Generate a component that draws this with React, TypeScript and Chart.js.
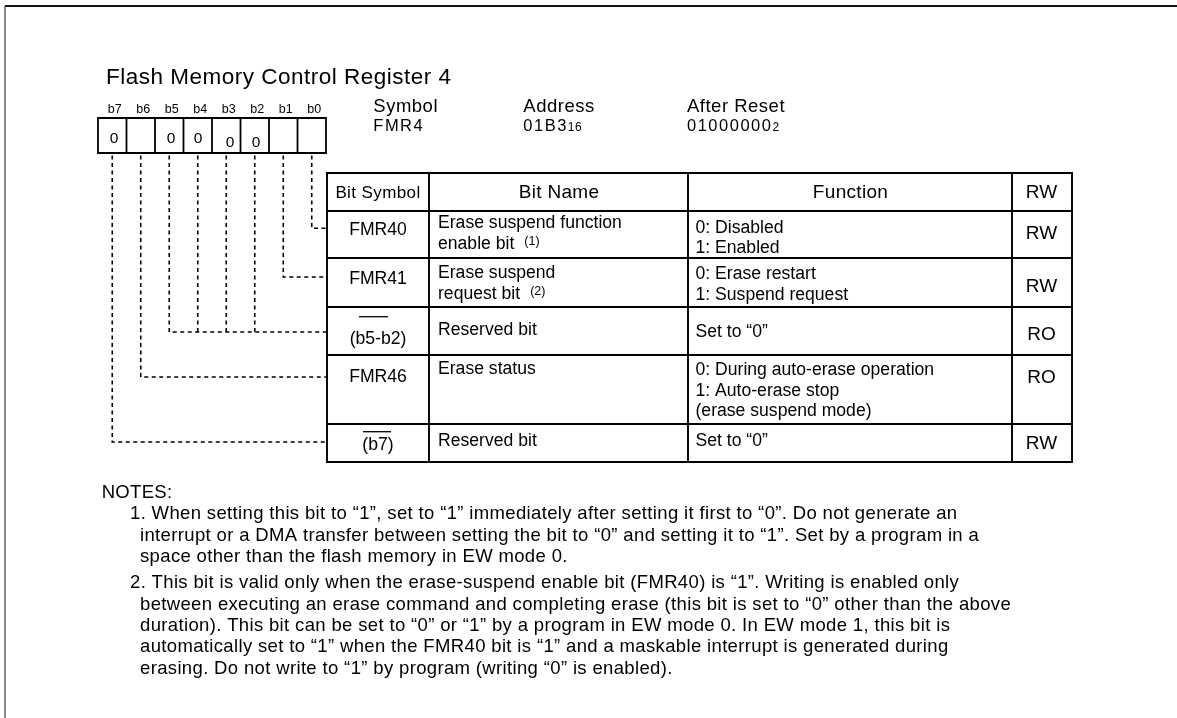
import React, { useEffect, useRef } from "react";
import { Chart, registerables } from "chart.js";

Chart.register(...registerables);

// ---------------- content ----------------
const title = "Flash Memory Control Register 4";
const bitLabels = ["b7", "b6", "b5", "b4", "b3", "b2", "b1", "b0"];
const resetBits = ["0", "", "0", "0", "0", "0", "", ""];
const infoHeads = ["Symbol", "Address", "After Reset"];
const infoValues = ["FMR4", "01B3", "01000000"];
const infoSubscripts = ["", "16", "2"];
const columnHeads = ["Bit Symbol", "Bit Name", "Function", "RW"];
const bitSymbols = ["FMR40", "FMR41", "(b5-b2)", "FMR46", "(b7)"];
const symbolOverline = [false, false, true, false, true];
const bitNames = [
  ["Erase suspend function", "enable bit"],
  ["Erase suspend", "request bit"],
  ["Reserved bit"],
  ["Erase status"],
  ["Reserved bit"],
];
const bitNameRefs = ["(1)", "(2)", "", "", ""];
const functionTexts = [
  ["0: Disabled", "1: Enabled"],
  ["0: Erase restart", "1: Suspend request"],
  ["Set to \u201C0\u201D"],
  ["0: During auto-erase operation", "1: Auto-erase stop", "(erase suspend mode)"],
  ["Set to \u201C0\u201D"],
];
const accessTexts = ["RW", "RW", "RO", "RO", "RW"];
// table row each bit (b7..b0) connects to
const bitToRow = [4, 3, 2, 2, 2, 2, 1, 0];
const notesHeading = "NOTES:";
const note1 = [
  "1. When setting this bit to \u201C1\u201D, set to \u201C1\u201D immediately after setting it first to \u201C0\u201D. Do not generate an",
  "interrupt or a DMA transfer between setting the bit to \u201C0\u201D and setting it to \u201C1\u201D. Set by a program in a",
  "space other than the flash memory in EW mode 0.",
];
const note2 = [
  "2. This bit is valid only when the erase-suspend enable bit (FMR40) is \u201C1\u201D. Writing is enabled only",
  "between executing an erase command and completing erase (this bit is set to \u201C0\u201D other than the above",
  "duration). This bit can be set to \u201C0\u201D or \u201C1\u201D by a program in EW mode 0. In EW mode 1, this bit is",
  "automatically set to \u201C1\u201D when the FMR40 bit is \u201C1\u201D and a maskable interrupt is generated during",
  "erasing. Do not write to \u201C1\u201D by program (writing \u201C0\u201D is enabled).",
];

// ---------------- layout ----------------
const W = 1177;
const H = 718;
const FONT = "'Liberation Sans', Arial, Helvetica, sans-serif";
const FRAME_X = 5;
const FRAME_Y = 6;
const TITLE_POS = { x: 106, y: 84, size: 22.5, ls: 0.5 };
const BOX_X0 = 98;
const BOX_W = 28.5;
const BOX_Y0 = 118;
const BOX_Y1 = 153;
const BIT_LABEL_Y = 113.3;
const BIT_LABEL_DX = 2.5;
const RESET_DX = [1.75, 0, 1.75, 0.25, 3.75, 1.25, 0, 0];
const RESET_Y = [143.3, 143.3, 143.3, 143.3, 146.7, 146.7, 146.7, 146.7];
const INFO_X = [373.3, 523.3, 687];
const INFO_HEAD_Y = 111.7;
const INFO_VAL_Y = 131;
const TABLE_X = [327, 429, 688, 1012, 1072];
const TABLE_Y = [173, 211, 258, 307, 355, 424, 462];
const COL_CENTER = [378, 559, 850.5, 1041.5];
const HEAD_Y = 198;
const HEAD_SIZE = [17, 19, 19, 19];
const HEAD_LS = [0.4, 0.3, 0.3, 0];
const BODY_SIZE = 17.6;
const SYMBOL_Y = [235, 284, 343.5, 381.7, 450];
const OVERLINE_Y = [0, 0, 316.7, 0, 431.7];
const OVERLINE_X = [[0, 0], [0, 0], [359, 388], [0, 0], [363, 391]];
const NAME_X = 438;
const NAME_Y = [228.3, 278.3, 335, 374, 445.7];
const NAME_PITCH = 21;
const FUNC_X = 695.5;
const FUNC_Y = [232.7, 279, 336.7, 375, 445.7];
const FUNC_PITCH = 20.6;
const RW_Y = [239.3, 291.7, 340, 383.3, 449];
const CONNECT_TOP = 155.5;
const CONNECT_Y = [228.3, 277, 332, 377, 442];
const NOTES_X = 101.7;
const NOTES_Y = 498.3;
const NOTE_NUM_X = 130;
const NOTE_CONT_X = 140;
const NOTE1_Y = 519.3;
const NOTE2_Y = 588.3;
const NOTE_PITCH = 21.3;
const NOTE_SIZE = 18.5;
const NOTE_LS = 0.35;

type P = { x: number; y: number };
type Seg = { pts: P[]; width: number; dash?: number[]; color?: string; cap?: string };

function boxCenter(i: number) {
  return BOX_X0 + BOX_W * i + BOX_W / 2;
}

function buildSegments(): Seg[] {
  const segs: Seg[] = [];
  // outer frame
  segs.push({ pts: [{ x: FRAME_X, y: H }, { x: FRAME_X, y: FRAME_Y }], width: 1.4, color: "#555" });
  segs.push({ pts: [{ x: FRAME_X, y: FRAME_Y }, { x: W, y: FRAME_Y }], width: 2, color: "#111" });
  // bit boxes
  const bx1 = BOX_X0 + BOX_W * bitLabels.length;
  segs.push({
    pts: [
      { x: BOX_X0, y: BOX_Y0 }, { x: bx1, y: BOX_Y0 }, { x: bx1, y: BOX_Y1 },
      { x: BOX_X0, y: BOX_Y1 }, { x: BOX_X0, y: BOX_Y0 },
    ],
    width: 1.8,
    cap: "square",
  });
  for (let i = 1; i < bitLabels.length; i++) {
    const x = BOX_X0 + BOX_W * i;
    segs.push({ pts: [{ x, y: BOX_Y0 }, { x, y: BOX_Y1 }], width: 1.8 });
  }
  // table
  const tx0 = TABLE_X[0], tx1 = TABLE_X[TABLE_X.length - 1];
  const ty0 = TABLE_Y[0], ty1 = TABLE_Y[TABLE_Y.length - 1];
  segs.push({
    pts: [
      { x: tx0, y: ty0 }, { x: tx1, y: ty0 }, { x: tx1, y: ty1 },
      { x: tx0, y: ty1 }, { x: tx0, y: ty0 },
    ],
    width: 1.9,
    cap: "square",
  });
  for (let i = 1; i < TABLE_X.length - 1; i++) {
    segs.push({ pts: [{ x: TABLE_X[i], y: ty0 }, { x: TABLE_X[i], y: ty1 }], width: 1.9 });
  }
  for (let j = 1; j < TABLE_Y.length - 1; j++) {
    segs.push({ pts: [{ x: tx0, y: TABLE_Y[j] }, { x: tx1, y: TABLE_Y[j] }], width: 1.9 });
  }
  // dashed connectors
  const dash = [4, 3.5];
  const leftMost: Record<number, number> = {};
  bitToRow.forEach((r, i) => {
    if (leftMost[r] === undefined) leftMost[r] = i;
  });
  bitToRow.forEach((r, i) => {
    const cx = boxCenter(i);
    const cy = CONNECT_Y[r];
    if (leftMost[r] === i) {
      segs.push({ pts: [{ x: cx, y: CONNECT_TOP }, { x: cx, y: cy }, { x: tx0, y: cy }], width: 1.6, dash });
    } else {
      segs.push({ pts: [{ x: cx, y: CONNECT_TOP }, { x: cx, y: cy }], width: 1.6, dash });
    }
  });
  // overlines of reserved-bit symbols
  symbolOverline.forEach((on, r) => {
    if (!on) return;
    segs.push({
      pts: [{ x: OVERLINE_X[r][0], y: OVERLINE_Y[r] }, { x: OVERLINE_X[r][1], y: OVERLINE_Y[r] }],
      width: 1.3,
    });
  });
  return segs;
}

const textPlugin = {
  id: "registerText",
  afterDatasetsDraw(chart: any) {
    const ctx: CanvasRenderingContext2D = chart.ctx;
    const sx = chart.scales.x;
    const sy = chart.scales.y;
    const X = (v: number) => sx.getPixelForValue(v);
    const Y = (v: number) => sy.getPixelForValue(v);
    ctx.save();
    ctx.fillStyle = "#000";
    ctx.textBaseline = "alphabetic";
    const draw = (s: string, x: number, y: number, size: number, align: CanvasTextAlign = "left", ls = 0) => {
      ctx.font = `${size}px ${FONT}`;
      ctx.textAlign = align;
      (ctx as any).letterSpacing = `${ls}px`;
      ctx.fillText(s, X(x), Y(y));
      const w = ctx.measureText(s).width;
      (ctx as any).letterSpacing = "0px";
      return w;
    };

    // title
    draw(title, TITLE_POS.x, TITLE_POS.y, TITLE_POS.size, "left", TITLE_POS.ls);
    // bit labels and reset values
    bitLabels.forEach((b, i) => draw(b, boxCenter(i) + BIT_LABEL_DX, BIT_LABEL_Y, 12.5, "center"));
    resetBits.forEach((v, i) => {
      if (v) draw(v, boxCenter(i) + RESET_DX[i], RESET_Y[i], 15.5, "center");
    });
    // symbol / address / after reset
    infoHeads.forEach((h, i) => draw(h, INFO_X[i], INFO_HEAD_Y, 18.5, "left", 0.5));
    infoValues.forEach((v, i) => {
      const w = draw(v, INFO_X[i], INFO_VAL_Y, 16.5, "left", 1.5);
      if (infoSubscripts[i]) draw(infoSubscripts[i], INFO_X[i] + w, INFO_VAL_Y, 12, "left", 0.5);
    });
    // column heads
    columnHeads.forEach((h, i) => draw(h, COL_CENTER[i], HEAD_Y, HEAD_SIZE[i], "center", HEAD_LS[i]));
    // rows
    bitSymbols.forEach((s, r) => draw(s, COL_CENTER[0], SYMBOL_Y[r], BODY_SIZE, "center"));
    bitNames.forEach((lines, r) => {
      lines.forEach((ln, k) => {
        const y = NAME_Y[r] + k * NAME_PITCH;
        const w = draw(ln, NAME_X, y, BODY_SIZE);
        if (k === lines.length - 1 && bitNameRefs[r]) {
          draw(bitNameRefs[r], NAME_X + w + 10, y - 4, 12.5);
        }
      });
    });
    functionTexts.forEach((lines, r) => {
      lines.forEach((ln, k) => draw(ln, FUNC_X, FUNC_Y[r] + k * FUNC_PITCH, BODY_SIZE));
    });
    accessTexts.forEach((a, r) => draw(a, COL_CENTER[3], RW_Y[r], 19, "center"));
    // notes
    draw(notesHeading, NOTES_X, NOTES_Y, 18.5, "left", 0.3);
    note1.forEach((ln, k) =>
      draw(ln, k === 0 ? NOTE_NUM_X : NOTE_CONT_X, NOTE1_Y + k * NOTE_PITCH, NOTE_SIZE, "left", NOTE_LS)
    );
    note2.forEach((ln, k) =>
      draw(ln, k === 0 ? NOTE_NUM_X : NOTE_CONT_X, NOTE2_Y + k * NOTE_PITCH, NOTE_SIZE, "left", NOTE_LS)
    );
    ctx.restore();
  },
};

export default function App() {
  const ref = useRef<HTMLCanvasElement | null>(null);
  useEffect(() => {
    if (!ref.current) return;
    const segs = buildSegments();
    const chart = new Chart(ref.current, {
      type: "scatter",
      data: {
        datasets: segs.map((s) => ({
          data: s.pts,
          showLine: true,
          borderColor: s.color || "#000",
          backgroundColor: s.color || "#000",
          borderWidth: s.width,
          borderDash: s.dash || [],
          borderCapStyle: (s.cap || "butt") as CanvasLineCap,
          borderJoinStyle: "miter" as CanvasLineJoin,
          pointRadius: 0,
          pointHoverRadius: 0,
          fill: false,
          tension: 0,
          clip: false as any,
        })),
      },
      options: {
        animation: false,
        responsive: false,
        maintainAspectRatio: false,
        devicePixelRatio: 1,
        events: [],
        layout: { padding: 0 },
        plugins: { legend: { display: false }, tooltip: { enabled: false }, title: { display: false } },
        scales: {
          x: { type: "linear", min: 0, max: W, display: false },
          y: { type: "linear", min: 0, max: H, reverse: true, display: false },
        },
      },
      plugins: [textPlugin],
    });
    return () => chart.destroy();
  }, []);
  return (
    <div style={{ position: "fixed", left: 0, top: 0, width: W, height: H, background: "#fff" }}>
      <canvas ref={ref} width={W} height={H} style={{ width: W, height: H, display: "block" }} />
    </div>
  );
}
